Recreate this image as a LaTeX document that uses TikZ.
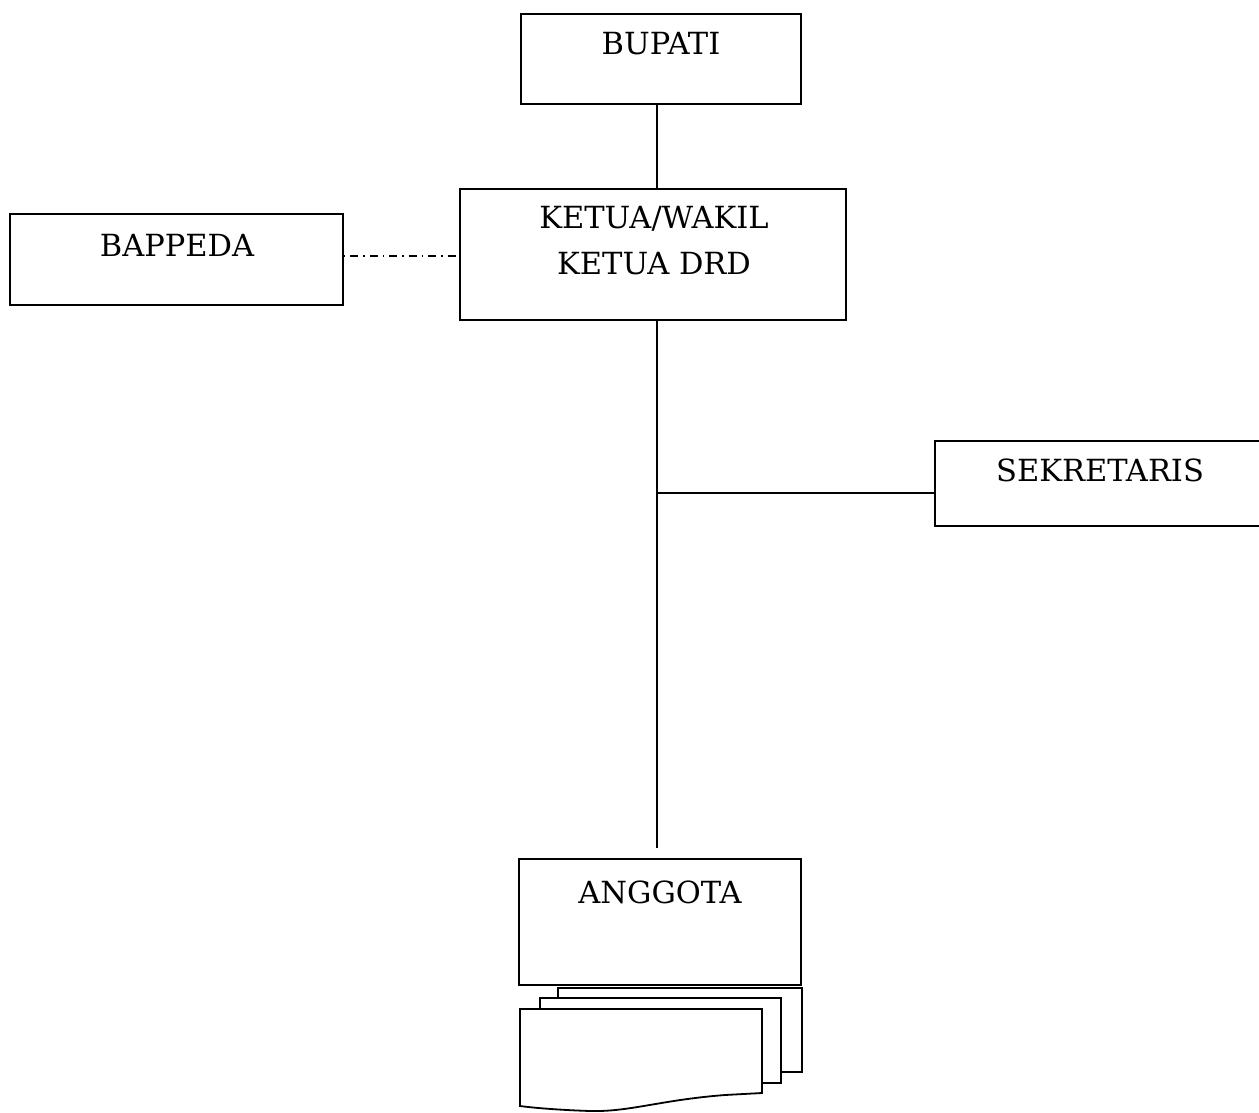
\documentclass[tikz,border=0pt]{standalone}
\usepackage{fontspec}
\setmainfont{DejaVu Serif}
\usepackage{tikz}
\usetikzlibrary{calc}

\begin{document}
\begin{tikzpicture}[x=1pt,y=-1pt,line width=1.8pt,
    box/.style={draw,inner sep=0pt},
    txt/.style={inner sep=0pt,font=\fontsize{30.5}{46}\selectfont,align=center},
    dashdot/.style={line width=1.3pt,dash pattern=on 1.5pt off 5pt on 8pt off 5pt},
    sheet/.style={draw,fill=white}]
            \useasboundingbox (0,0) rectangle (1259,1112);
            % boxes
            \node[box,minimum width=280pt,minimum height=90pt] (bupati) at (661,59) {};
            \node[txt] (bupati text) at (661,44) {BUPATI};
            \node[box,minimum width=386pt,minimum height=131pt] (ketua) at (653,254.5) {};
            \node[txt] (ketua text) at (654,241) {KETUA/WAKIL\\KETUA DRD};
            \node[box,minimum width=333pt,minimum height=91pt] (bappeda) at (176.5,259.5) {};
            \node[txt] (bappeda text) at (177,245) {BAPPEDA};
            \node[box,minimum width=327pt,minimum height=85pt] (sekretaris) at (1098.5,483.5) {};
            \node[txt] (sekretaris text) at (1100,470) {SEKRETARIS};
            \node[box,minimum width=282pt,minimum height=126pt] (anggota) at (660,922) {};
            \node[txt] (anggota text) at (660,892) {ANGGOTA};
            % stacked sheets under ANGGOTA
            \draw[sheet] (558,988) rectangle (802,1072);
            \draw[sheet] (540,998) rectangle (781,1083);
            \draw[sheet] (520,1009) -- (762,1009) -- (762,1093) -- (725,1095)
                .. controls (660,1100) and (630,1112) .. (590,1111)
                .. controls (560,1110) and (535,1108) .. (520,1106) -- cycle;
            % lines
            \coordinate (junction) at (657,493);
            \coordinate (anggota top) at (657,848);
            \draw ([xshift=-4pt]bupati.south) -- ([xshift=-4pt]bupati.south |- ketua.north);
            \draw ([xshift=4pt]ketua.south) -- (anggota top);
            \draw (junction) -- (junction -| sekretaris.west);
            \draw[dashdot] ([yshift=3.5pt]bappeda.east) -- ([yshift=3.5pt]bappeda.east -| ketua.west);
\end{tikzpicture}
\end{document}
